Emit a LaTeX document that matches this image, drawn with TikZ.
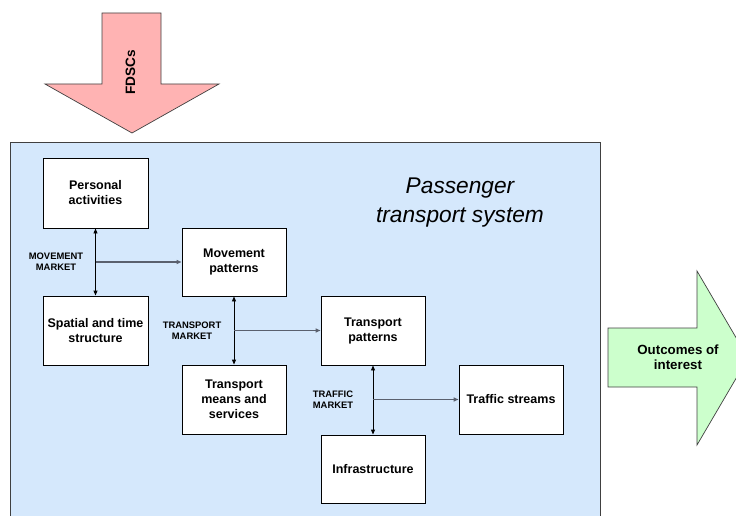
\documentclass[tikz,border=0pt]{standalone}
\usepackage{fontspec}
\setmainfont{Liberation Sans}
\usetikzlibrary{arrows.meta}
\definecolor{sysblue}{RGB}{213,232,252}
\definecolor{drivered}{RGB}{255,179,179}
\definecolor{outgreen}{RGB}{204,255,204}
\definecolor{hline}{RGB}{90,96,110}
\tikzset{
  block/.style={draw=black, line width=0.9pt, fill=white, align=center,
    minimum width=104pt, minimum height=69pt, inner sep=2pt,
    font=\fontsize{12.5}{15}\selectfont\bfseries},
  mktlabel/.style={align=center, inner sep=0pt,
    font=\fontsize{9.4}{11}\selectfont\bfseries},
  tip/.style={-{Triangle[length=5pt,width=4pt]}},
  bothtips/.style={{Triangle[length=5pt,width=4pt]}-{Triangle[length=5pt,width=4pt]}},
  vlink/.style={bothtips, draw=black, line width=0.9pt},
  hlink/.style={tip, draw=hline, line width=1.6pt},
  bigarrow/.style={draw=black!75, line width=0.7pt}
}
\begin{document}
\begin{tikzpicture}[x=1pt, y=-1pt]
\useasboundingbox (0,0) rectangle (736,516);
\clip (0,0) rectangle (736,516);

% system frame
\draw[fill=sysblue, draw=black!75, line width=0.9pt] (10,142) rectangle (600,530);

% driving forces entering from above
\draw[bigarrow, fill=drivered] (102,13) -- (161,13) -- (161,84) -- (219,84)
  -- (132,133) -- (45,84) -- (102,84) -- cycle;
\node[rotate=90, font=\fontsize{13.6}{16}\selectfont\bfseries] (fdsc) at (130.5,72.5) {FDSCs};

% outcomes leaving to the right
\draw[bigarrow, fill=outgreen] (608,328) -- (697,328) -- (697,271) -- (748,358)
  -- (697,445) -- (697,387) -- (608,387) -- cycle;
\node[align=center, font=\fontsize{13.3}{15.5}\selectfont\bfseries] (out) at (678,357) {Outcomes of\\interest};

% system title
\node[align=center, font=\fontsize{22.7}{29}\selectfont\itshape] (title) at (460,203) {Passenger\\transport system};

% sub-systems
\node[block, minimum width=105pt, minimum height=70pt] (pa) at (95.5,193) {Personal\\activities};
\node[block, minimum height=68pt] (mp) at (234,262) {Movement\\patterns};
\node[block, minimum width=105pt] (st) at (95.5,330.5) {Spatial and time\\structure};
\node[block] (tp) at (373,330.5) {Transport\\patterns};
\node[block] (tm) at (234,399.5) {Transport\\means and\\services};
\node[block] (ts) at (511,399.5) {Traffic streams};
\node[block, minimum height=68pt] (inf) at (373,469) {Infrastructure};

% markets
\draw[vlink] (pa.south) -- (st.north);
\draw[hlink] (pa.south |- mp.west) -- (mp.west);
\node[mktlabel] (mm) at (56,262) {MOVEMENT\\MARKET};

\draw[vlink] (mp.south) -- (tm.north);
\draw[hlink] (mp.south |- tp.west) -- (tp.west);
\node[mktlabel] (tmk) at (192,331) {TRANSPORT\\MARKET};

\draw[vlink] (tp.south) -- (inf.north);
\draw[hlink] (tp.south |- ts.west) -- (ts.west);
\node[mktlabel] (tfm) at (333,400) {TRAFFIC\\MARKET};
\end{tikzpicture}
\end{document}
